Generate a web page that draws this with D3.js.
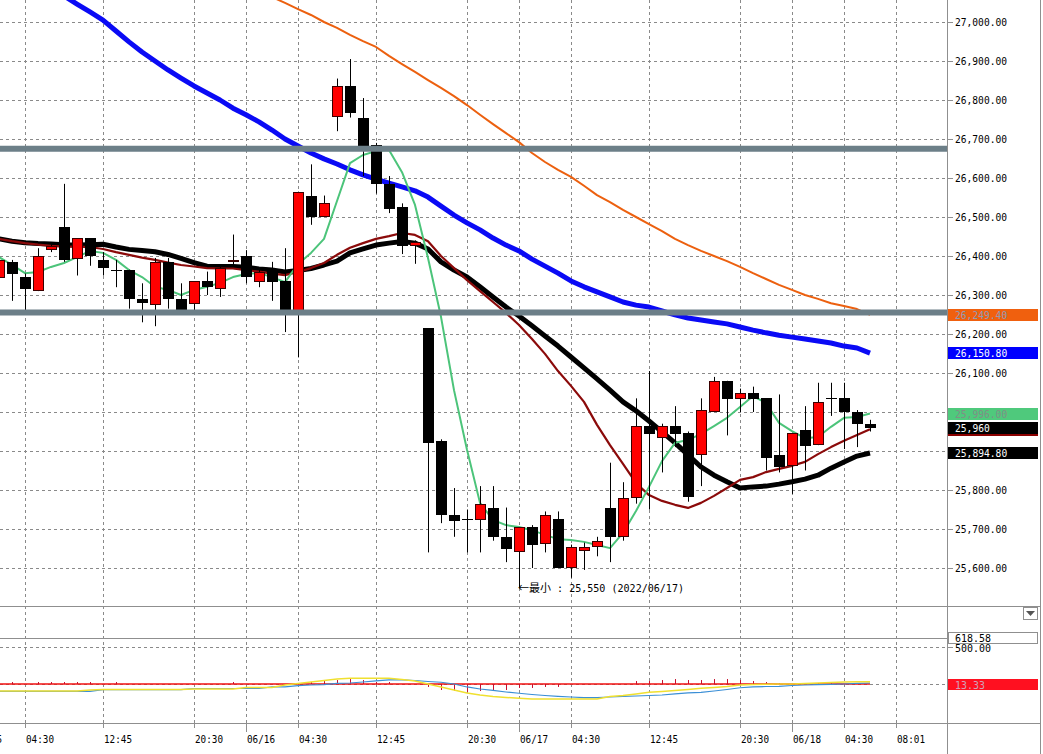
<!DOCTYPE html>
<html>
<head>
<meta charset="utf-8">
<script src="https://cdnjs.cloudflare.com/ajax/libs/d3/7.8.5/d3.min.js"></script>
<style>
body { margin: 0; background: #fff; }
svg { display: block; }
text { font-family: "DejaVu Sans Mono", "Noto Sans CJK JP", monospace; font-size: 11px; }
text.cjk { font-family: "Noto Sans CJK JP", "DejaVu Sans Mono", sans-serif; }
</style>
</head>
<body>
<svg width="1043" height="754"></svg>
<script>
"use strict";

// candles (one per bar, oldest first)
const opens  = [26345,26385,26345,26310,26415,26475,26390,26445,26390,26365,26365,26290,26275,26385,26290,26275,26335,26315,26385,26400,26335,26365,26335,26260,26555,26500,26755,26835,26755,26685,26585,26525,26425,26215,25925,25735,25725,25725,25755,25680,25640,25705,25660,25725,25600,25645,25655,25755,25680,25780,25965,25935,25965,25945,25890,26000,26080,26035,26050,26035,25890,25860,25955,25915,26035,26035,26000,25970];
const highs  = [26405,26390,26355,26420,26430,26585,26445,26445,26410,26390,26365,26330,26395,26395,26330,26335,26360,26375,26455,26415,26370,26385,26420,26565,26635,26555,26855,26905,26805,26690,26605,26535,26440,26215,25930,25805,25750,25810,25810,25755,25705,25710,25745,25745,25660,25665,25680,25870,25820,26035,26105,25970,26015,25950,26035,26090,26080,26060,26065,26035,26045,25945,26015,26075,26075,26075,26005,25980];
const lows   = [26335,26285,26250,26310,26410,26385,26350,26375,26350,26320,26265,26230,26220,26265,26250,26250,26300,26295,26375,26330,26320,26285,26205,26140,26480,26500,26720,26755,26605,26560,26510,26405,26380,25640,25715,25680,25640,25640,25670,25615,25550,25600,25640,25600,25575,25595,25630,25615,25670,25765,25750,25845,25910,25770,25810,26000,25940,26000,26000,25850,25845,25790,25850,25915,25990,25905,25910,25950];
const closes = [26390,26355,26315,26400,26425,26390,26445,26400,26370,26365,26290,26280,26385,26290,26260,26335,26320,26370,26390,26345,26360,26335,26260,26565,26500,26535,26835,26765,26670,26585,26520,26425,26435,25920,25735,25720,25725,25765,25680,25650,25705,25660,25735,25600,25655,25655,25670,25680,25780,25965,25945,25965,25945,25780,26005,26080,26035,26050,26035,25880,25860,25945,25915,26025,26035,26000,25970,25960];

// moving averages
const maGreen  = [26397,26377,26356,26359,26372,26382,26397,26413,26408,26390,26364,26346,26321,26313,26300,26313,26321,26331,26346,26354,26356,26346,26333,26379,26408,26444,26541,26638,26659,26669,26672,26615,26531,26395,26244,26056,25903,25767,25723,25710,25705,25697,25685,25674,25672,25667,25659,25651,25690,25746,25808,25874,25921,25928,25944,25964,25985,26013,26041,26023,25972,25951,25933,25936,25962,25985,25987,25996];
const maRed    = [26444,26438,26433,26429,26426,26424,26424,26423,26418,26410,26403,26396,26390,26383,26377,26373,26369,26368,26368,26364,26360,26355,26351,26359,26369,26382,26403,26421,26433,26444,26451,26459,26454,26438,26400,26369,26338,26310,26282,26254,26223,26187,26149,26105,26067,26026,25967,25915,25867,25818,25787,25772,25762,25754,25767,25785,25805,25826,25833,25846,25854,25862,25872,25892,25910,25926,25941,25956];
const maBlack  = [26444,26438,26434,26432,26431,26429,26428,26429,26430,26423,26417,26414,26411,26404,26394,26383,26374,26373,26373,26371,26367,26364,26359,26363,26368,26377,26387,26408,26418,26428,26433,26437,26433,26418,26385,26364,26346,26321,26295,26269,26246,26221,26195,26169,26141,26113,26085,26056,26026,26003,25977,25949,25921,25890,25859,25838,25821,25805,25808,25810,25815,25821,25828,25838,25856,25872,25887,25895];
const maBlue   = [null,null,null,null,27085,27067,27046,27026,27005,26977,26949,26923,26900,26877,26856,26836,26818,26800,26779,26762,26744,26723,26700,26682,26664,26649,26636,26621,26608,26597,26587,26577,26567,26551,26528,26505,26485,26467,26446,26428,26413,26392,26374,26356,26336,26321,26308,26295,26282,26274,26269,26259,26249,26241,26236,26231,26226,26218,26210,26203,26197,26192,26187,26182,26177,26169,26164,26151];
const maOrange = [null,null,null,null,null,null,null,null,null,null,null,null,null,null,null,null,null,null,null,null,27077,27064,27049,27033,27018,27000,26985,26967,26951,26936,26913,26892,26872,26851,26831,26810,26787,26762,26738,26715,26692,26664,26641,26621,26603,26580,26556,26538,26518,26500,26482,26464,26444,26428,26413,26400,26387,26372,26356,26341,26326,26313,26300,26290,26279,26272,26264,26249];

// horizontal lines drawn on the chart
const levels = [26675, 26255];

// lower indicator
const oscYellow = [-92,-92,-92,-92,-92,-92,-92,-79,-72,-72,-72,-72,-72,-72,-72,-66,-66,-66,-66,-46,-46,-46,-13,7,26,46,66,75,75,75,75,59,40,0,-39,-79,-118,-145,-164,-177,-188,-197,-197,-197,-197,-197,-197,-164,-151,-131,-109,-98,-85,-72,-56,-46,-33,-13,-7,-4,0,0,7,13,20,26,30,30];
const oscBlue   = [-98,-98,-98,-98,-98,-98,-98,-98,-75,-75,-75,-75,-75,-75,-75,-59,-59,-59,-59,-59,-59,-39,-39,-22,-13,-7,7,13,26,40,53,53,46,33,23,0,-39,-66,-85,-105,-122,-138,-151,-162,-171,-180,-180,-171,-164,-158,-151,-145,-131,-118,-109,-92,-72,-49,-39,-33,-30,-20,-13,-7,-4,0,7,13];
const oscHist   = [0,26,0,26,26,26,26,26,0,26,0,0,0,0,0,0,0,0,26,0,0,0,0,0,26,39,52,65,52,26,26,0,0,-39,-79,-92,-105,-92,-79,-79,-52,-52,-39,-39,0,0,0,0,0,39,39,52,65,52,52,65,65,52,39,26,13,0,13,13,13,0,0,0];
const oscBase = 13.33, oscTop = 618.58, oscMid = 500;

// axes
const priceTicks = [25600,25700,25800,25900,26000,26100,26200,26300,26400,26500,26600,26700,26800,26900,27000];
const tickIdx    = [-2, 2, 8, 15, 19, 23, 29, 36, 40, 44, 50, 57, 61, 65, 69];
const tickLabels = ["06/15","04:30","12:45","20:30","06/16","04:30","12:45","20:30","06/17","04:30","12:45","20:30","06/18","04:30","08:01"];

const tags = [
  {value: 26249.40, text: "26,249.40", fill: "#f0600e", color: "#8e9cb6"},
  {value: 26150.80, text: "26,150.80", fill: "#0000ff", color: "#ffffff"},
  {value: 25996.00, text: "25,996.00", fill: "#4fc97c", color: "#7f8f86"},
  {value: 25960,    text: "25,960",    fill: "#000000", color: "#ffffff", under: "#8b0000"},
  {value: 25894.80, text: "25,894.80", fill: "#000000", color: "#ffffff"}
];

var svg = d3.select("svg"),
    axisX = 947,
    rightX = 1040,
    mainBottom = 606,
    lowBottom = 723;

var x = d3.scaleLinear().domain([0, 67]).range([-1, 870]),
    y = d3.scaleLinear().domain([25500, 27000]).range([607, 22]),
    yLow = d3.scaleLinear().domain([oscBase, oscMid]).range([684, 647]);

var px = v => Math.round(v) + 0.5;
var frame = "#8f8f8f";

var defs = svg.append("defs");
defs.append("clipPath").attr("id", "clipMain")
  .append("rect").attr("x", 0).attr("y", 0).attr("width", axisX).attr("height", mainBottom);
defs.append("clipPath").attr("id", "clipLow")
  .append("rect").attr("x", 0).attr("y", mainBottom + 1).attr("width", axisX).attr("height", lowBottom - mainBottom - 1);

// dashed grid
var grid = svg.append("g")
    .attr("stroke", "#8a8a8a")
    .attr("stroke-dasharray", "3,3");

grid.selectAll("line.v")
  .data(tickIdx.filter(i => x(i) > 0))
  .enter().append("line")
    .attr("x1", d => px(x(d))).attr("x2", d => px(x(d)))
    .attr("y1", 0).attr("y2", lowBottom);

grid.selectAll("line.h")
  .data(priceTicks)
  .enter().append("line")
    .attr("x1", 0).attr("x2", axisX)
    .attr("y1", d => px(y(d))).attr("y2", d => px(y(d)));

grid.selectAll("line.l")
  .data([oscMid, oscBase])
  .enter().append("line")
    .attr("x1", 0).attr("x2", axisX)
    .attr("y1", d => px(yLow(d))).attr("y2", d => px(yLow(d)));

// frame
var fr = svg.append("g").attr("stroke", frame);
fr.append("line").attr("x1", 0).attr("x2", rightX).attr("y1", mainBottom + .5).attr("y2", mainBottom + .5);
fr.append("line").attr("x1", 0).attr("x2", axisX).attr("y1", px(yLow(oscTop))).attr("y2", px(yLow(oscTop)));
fr.append("line").attr("x1", 0).attr("x2", rightX).attr("y1", lowBottom + .5).attr("y2", lowBottom + .5);
fr.append("line").attr("x1", axisX + .5).attr("x2", axisX + .5).attr("y1", 0).attr("y2", 754);
fr.append("line").attr("x1", rightX + .5).attr("x2", rightX + .5).attr("y1", 0).attr("y2", 754);

// axis ticks
fr.selectAll("line.pt")
  .data(priceTicks)
  .enter().append("line")
    .attr("x1", axisX).attr("x2", axisX + 6)
    .attr("y1", d => px(y(d))).attr("y2", d => px(y(d)));
fr.selectAll("line.lt")
  .data([oscTop, oscMid, oscBase])
  .enter().append("line")
    .attr("x1", axisX).attr("x2", axisX + 6)
    .attr("y1", d => px(yLow(d))).attr("y2", d => px(yLow(d)));
fr.selectAll("line.bt")
  .data(tickIdx.filter(i => x(i) > 0))
  .enter().append("line")
    .attr("x1", d => px(x(d))).attr("x2", d => px(x(d)))
    .attr("y1", lowBottom)
    .attr("y2", d => tickLabels[tickIdx.indexOf(d)].indexOf("/") > 0 ? lowBottom + 9 : lowBottom + 5);

// moving averages
var main = svg.append("g").attr("clip-path", "url(#clipMain)");
var line = d3.line()
    .defined(d => d != null)
    .x((d, i) => x(i))
    .y(d => y(d));

[
  {data: maOrange, color: "#ec600f", w: 2},
  {data: maBlue,   color: "#0a0af5", w: 5},
  {data: maBlack,  color: "#000000", w: 5},
  {data: maRed,    color: "#8b0a0a", w: 2.2},
  {data: maGreen,  color: "#4cc47a", w: 2}
].forEach(function(s) {
  main.append("path")
    .datum(s.data)
    .attr("fill", "none")
    .attr("stroke", s.color)
    .attr("stroke-width", s.w)
    .attr("stroke-linejoin", "round")
    .attr("d", line);
});

// candles
var candles = main.append("g").attr("class", "candles")
  .selectAll("g")
  .data(opens.map((o, i) => ({i: i, o: o, h: highs[i], l: lows[i], c: closes[i]})))
  .enter().append("g");

candles.append("line")
    .attr("x1", d => px(x(d.i))).attr("x2", d => px(x(d.i)))
    .attr("y1", d => y(d.h)).attr("y2", d => y(d.l))
    .attr("stroke", "#000");

candles.filter(d => d.o !== d.c).append("rect")
    .attr("x", d => Math.round(x(d.i)) - 4.5)
    .attr("width", 10)
    .attr("y", d => Math.round(y(Math.max(d.o, d.c))) + .5)
    .attr("height", d => Math.max(1, Math.round(Math.abs(y(d.o) - y(d.c))) - 1))
    .attr("fill", d => d.c > d.o ? "#ff0000" : "#000")
    .attr("stroke", d => d.c > d.o ? "#3a0000" : "#000");

candles.filter(d => d.o === d.c).append("line")
    .attr("x1", d => Math.round(x(d.i)) - 5).attr("x2", d => Math.round(x(d.i)) + 6)
    .attr("y1", d => px(y(d.o))).attr("y2", d => px(y(d.o)))
    .attr("stroke", "#000");

// drawn levels on top
main.selectAll("line.level")
  .data(levels)
  .enter().append("line")
    .attr("x1", 0).attr("x2", axisX)
    .attr("y1", d => y(d)).attr("y2", d => y(d))
    .attr("stroke", "#6c7f88")
    .attr("stroke-width", 6);

// minimum marker
var iMin = d3.minIndex(lows);
var minText = main.append("text")
    .attr("class", "cjk")
    .attr("x", x(iMin) - 1)
    .attr("y", y(lows[iMin]) + 4)
    .attr("fill", "#000");
minText.append("tspan").text("←最小");
minText.append("tspan")
    .attr("font-family", "DejaVu Sans Mono")
    .attr("textLength", 133)
    .attr("lengthAdjust", "spacingAndGlyphs")
    .text(" : " + d3.format(",")(lows[iMin]) + " (2022/06/17)");

// lower indicator
var low = svg.append("g").attr("clip-path", "url(#clipLow)");
low.append("line")
    .attr("x1", 0).attr("x2", x(opens.length - 1))
    .attr("y1", yLow(oscBase)).attr("y2", yLow(oscBase))
    .attr("stroke", "#f01010").attr("stroke-width", 1.5);
low.selectAll("line.hist")
  .data(oscHist.map((h, i) => ({i: i, h: h})).filter(d => d.h !== 0))
  .enter().append("line")
    .attr("x1", d => px(x(d.i))).attr("x2", d => px(x(d.i)))
    .attr("y1", yLow(oscBase))
    .attr("y2", d => yLow(oscBase + d.h))
    .attr("stroke", "#c8102e");
var oscLine = d3.line().x((d, i) => x(i)).y(d => yLow(oscBase + d));
low.append("path").datum(oscBlue)
    .attr("fill", "none").attr("stroke", "#3b8fd6").attr("stroke-width", 1.2).attr("d", oscLine);
low.append("path").datum(oscYellow)
    .attr("fill", "none").attr("stroke", "#f0e030").attr("stroke-width", 1.5).attr("d", oscLine);

// price labels
svg.append("g").selectAll("text")
  .data(priceTicks)
  .enter().append("text")
    .attr("x", 955)
    .attr("y", d => y(d) + 4)
    .attr("textLength", 52)
    .attr("lengthAdjust", "spacingAndGlyphs")
    .text(d => d3.format(",.2f")(d));

// value tags
var tg = svg.append("g").selectAll("g").data(tags).enter().append("g");
tg.append("rect")
    .attr("x", axisX + 1).attr("width", 90)
    .attr("y", d => Math.round(y(d.value)) - 6).attr("height", 12)
    .attr("fill", d => d.fill);
tg.filter(d => d.under).append("rect")
    .attr("x", axisX + 1).attr("width", 90)
    .attr("y", d => Math.round(y(d.value)) + 6).attr("height", 2)
    .attr("fill", d => d.under);
tg.append("text")
    .attr("x", 955)
    .attr("y", d => Math.round(y(d.value)) + 4)
    .attr("textLength", d => d.text.length * 5.8)
    .attr("lengthAdjust", "spacingAndGlyphs")
    .attr("fill", d => d.color)
    .text(d => d.text);

// lower axis labels
var lt = svg.append("g");
lt.append("rect")
    .attr("x", axisX + 1.5).attr("y", Math.round(yLow(oscTop)) - 5.5)
    .attr("width", 89).attr("height", 11)
    .attr("fill", "#fff").attr("stroke", frame);
lt.append("text")
    .attr("x", 955).attr("y", Math.round(yLow(oscTop)) + 4)
    .attr("font-size", 12).attr("textLength", 36).attr("lengthAdjust", "spacingAndGlyphs")
    .text(d3.format(".2f")(oscTop));
lt.append("text")
    .attr("x", 955).attr("y", Math.round(yLow(oscMid)) + 5)
    .attr("font-size", 12).attr("textLength", 36).attr("lengthAdjust", "spacingAndGlyphs")
    .text(d3.format(".2f")(oscMid));
lt.append("rect")
    .attr("x", axisX + 1).attr("y", Math.round(yLow(oscBase)) - 5)
    .attr("width", 90).attr("height", 11)
    .attr("fill", "#ff1020");
lt.append("text")
    .attr("x", 955).attr("y", Math.round(yLow(oscBase)) + 5)
    .attr("font-size", 12).attr("textLength", 30).attr("lengthAdjust", "spacingAndGlyphs")
    .attr("fill", "#d0a0b8")
    .text(d3.format(".2f")(oscBase));

// dropdown button
lt.append("rect")
    .attr("x", 1023.5).attr("y", 607.5).attr("width", 14).attr("height", 12)
    .attr("fill", "#fff").attr("stroke", frame);
lt.append("path")
    .attr("d", "M1026,611 L1035,611 L1030.5,616 Z")
    .attr("fill", "#555");

// time labels
svg.append("g").selectAll("text")
  .data(tickIdx)
  .enter().append("text")
    .attr("x", d => Math.round(x(d)) + 1)
    .attr("y", 743)
    .attr("font-size", 12)
    .attr("textLength", 28)
    .attr("lengthAdjust", "spacingAndGlyphs")
    .text((d, i) => tickLabels[i]);
</script>
</body>
</html>
